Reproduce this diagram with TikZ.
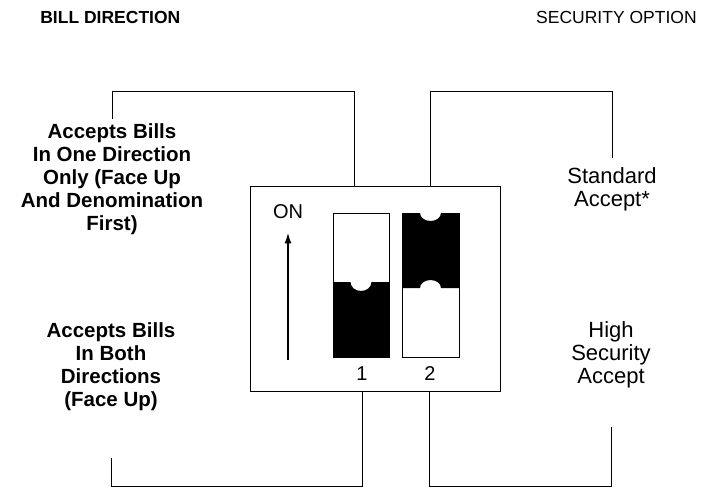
\documentclass[tikz,border=0pt]{standalone}
\usepackage{fontspec}
\setmainfont{Liberation Sans}
\usetikzlibrary{arrows.meta,calc}

\begin{document}
\begin{tikzpicture}[x=1pt,y=-1pt,line width=0.7pt,
  lbl/.style={align=center,inner sep=0pt,font=\fontsize{20.5}{23}\selectfont\bfseries},
  rlbl/.style={align=center,inner sep=0pt,font=\fontsize{22}{23}\selectfont},
  ttl/.style={inner sep=0pt,font=\fontsize{17.5}{21}\selectfont},
  num/.style={inner sep=0pt,font=\fontsize{20}{22}\selectfont}]
 \useasboundingbox (0,0) rectangle (709,487);
 \node[ttl,font=\fontsize{17.5}{21}\selectfont\bfseries,anchor=west] (billdir) at (40,17) {BILL DIRECTION};
 \node[ttl,anchor=east] (secopt) at (697,17) {SECURITY OPTION};
 \node[draw,minimum width=250pt,minimum height=205pt,inner sep=0pt] (dipbox) at (375,288.5) {};
 \node[lbl] (oneway) at (112,179) {Accepts Bills\\In One Direction\\Only (Face Up\\And Denomination\\First)};
 \node[lbl] (bothway) at (111,366.5) {Accepts Bills\\In Both\\Directions\\(Face Up)};
 \node[rlbl] (stdacc) at (612,189.7) {Standard\\Accept*};
 \node[rlbl] (hisec) at (611,355.2) {High\\Security\\Accept};
 \draw (dipbox.north west) ++(105,0) |- (oneway.north |- 0,91) -- ++(0,28);
 \draw (dipbox.north west) ++(181,0) |- (stdacc.north |- 0,91) -- ++(0,67);
 \draw (dipbox.south west) ++(113,0) |- (bothway.south |- 0,486) -- ++(0,-28);
 \draw (dipbox.south west) ++(180,0) |- (hisec.south |- 0,486) -- ++(0,-59);
 \node[num] (onlbl) at (288,212) {ON};
 \coordinate (arrowfoot) at (288,360);
 \draw[line width=2.4pt,shorten >=12pt,-{Latex[length=12pt,width=7pt]}] (arrowfoot) -- (onlbl.south);
 \draw (333,213) rectangle (389,357);
 \fill (333,357) -- (333,282) -- (350.5,282) arc[start angle=180,end angle=0,x radius=10.5,y radius=9] -- (389,282) -- (389,357) -- cycle;
 \draw (402,213) -- (402,357) -- (459,357) -- (459,213);
 \fill (402,213) -- (420,213) arc[start angle=180,end angle=0,x radius=10.5,y radius=8] -- (459,213) -- (459,288) -- (441,288) arc[start angle=360,end angle=180,x radius=10.5,y radius=8] -- (402,288) -- cycle;
 \node[num] (sw1) at (362,374) {1};
 \node[num] (sw2) at (430,374) {2};
\end{tikzpicture}
\end{document}
